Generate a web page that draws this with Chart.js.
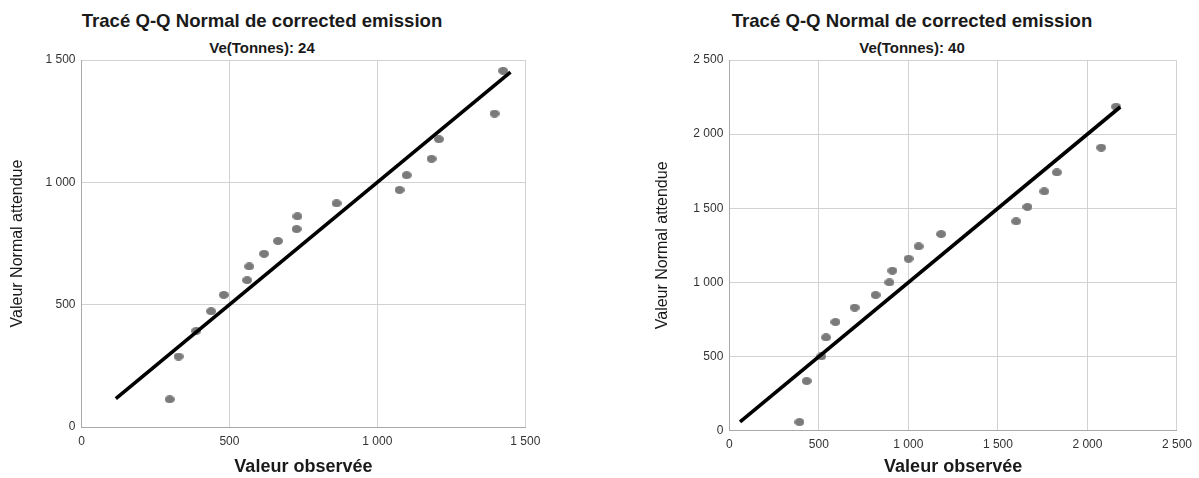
<!DOCTYPE html>
<html>
<head>
<meta charset="utf-8">
<script src="https://cdn.jsdelivr.net/npm/chart.js@4"></script>
<style>
  body { margin: 0; background: #fff; font-family: "Liberation Sans", Arial, sans-serif; }
  #wrap { position: relative; width: 1199px; height: 478px; overflow: hidden; }
  canvas { position: absolute; top: 0; }
  .title, .subtitle { position: absolute; width: 400px; text-align: center; color: #1a1a1a; font-weight: bold; white-space: nowrap; }
  .title { font-size: 18.6px; line-height: 22px; top: 10px; }
  .subtitle { font-size: 15px; line-height: 18px; top: 39px; }
</style>
</head>
<body>
<div id="wrap">
  <div class="title" style="left:62px">Tracé Q-Q Normal de corrected emission</div>
  <div class="subtitle" style="left:62px">Ve(Tonnes): 24</div>
  <div class="title" style="left:712px">Tracé Q-Q Normal de corrected emission</div>
  <div class="subtitle" style="left:712px">Ve(Tonnes): 40</div>
  <canvas id="qq24" width="580" height="478" style="left:0"></canvas>
  <canvas id="qq40" width="599" height="478" style="left:600px"></canvas>
</div>
<script>
// Ve = 24
const observed24 = [298, 328, 388, 438, 481, 560, 567, 617, 664, 727, 730, 862, 1075, 1099, 1183, 1208, 1396, 1425];
const expected24 = [113, 288, 393, 473, 540, 600, 656, 708, 760, 809, 861, 914, 969, 1029, 1096, 1176, 1281, 1456];
const refLine24 = [116, 1450];
const ticks24 = [0, 500, 1000, 1500];

// Ve = 40
const observed40 = [392, 432, 514, 540, 593, 700, 817, 894, 911, 1001, 1057, 1183, 1602, 1665, 1759, 1829, 2077, 2160];
const expected40 = [58, 335, 501, 629, 733, 830, 915, 1000, 1079, 1160, 1243, 1326, 1412, 1509, 1614, 1742, 1909, 2185];
const refLine40 = [60, 2183];
const ticks40 = [0, 500, 1000, 1500, 2000, 2500];

const FONT = "'Liberation Sans', Arial, sans-serif";

function fmt(v) {
  return String(v).replace(/\B(?=(\d{3})+(?!\d))/g, ' ');
}

// small elliptic marker, like the SPSS dots
function ellipseMarker(w, h, color) {
  const c = document.createElement('canvas');
  c.width = w; c.height = h;
  const g = c.getContext('2d');
  g.fillStyle = color;
  g.beginPath();
  g.ellipse(w / 2, h / 2, w / 2, h / 2, 0, 0, Math.PI * 2);
  g.fill();
  return c;
}

function qqChart(id, observed, expected, refLine, ticks, box) {
  const points = observed.map((x, i) => ({ x, y: expected[i] }));
  const line = refLine.map(v => ({ x: v, y: v }));
  const max = ticks[ticks.length - 1];

  const axis = (title) => ({
    type: 'linear',
    min: 0,
    max,
    afterBuildTicks: s => { s.ticks = ticks.map(value => ({ value })); },
    grid: { color: '#d2d2d2', lineWidth: 1, drawTicks: false },
    border: { color: '#a9a9a9', width: 1 },
    ticks: { color: '#333', font: { family: FONT, size: 12 }, padding: 6, callback: v => fmt(v) },
    title
  });

  const x = axis({ display: true, text: 'Valeur observée', color: '#1a1a1a', font: { family: FONT, size: 18, weight: 'bold' }, padding: { top: 0, bottom: 0 } });
  x.afterFit = s => { s.height = box.xHeight; };
  x.ticks.padding = 7;

  const y = axis({ display: true, text: 'Valeur Normal attendue', color: '#1a1a1a', font: { family: FONT, size: 16 }, padding: { top: 8.4, bottom: 0 } });
  y.afterFit = s => { s.width = box.yWidth; };

  return new Chart(document.getElementById(id), {
    type: 'scatter',
    data: {
      datasets: [
        {
          type: 'line',
          data: line,
          borderColor: '#000',
          borderWidth: 3.6,
          pointRadius: 0,
          fill: false
        },
        {
          data: points,
          pointStyle: ellipseMarker(10, 8, '#7a7a7a'),
          pointRadius: 4
        }
      ]
    },
    options: {
      responsive: false,
      animation: false,
      layout: { padding: box.padding },
      plugins: { legend: { display: false }, tooltip: { enabled: false } },
      scales: { x, y }
    }
  });
}

qqChart('qq24', observed24, expected24, refLine24, ticks24, {
  padding: { left: 0, top: 60, right: 54.7, bottom: 0 },
  yWidth: 81.5,
  xHeight: 51
});

qqChart('qq40', observed40, expected40, refLine40, ticks40, {
  padding: { left: 45, top: 60, right: 18.7, bottom: 0 },
  yWidth: 84.3,
  xHeight: 47.3
});
</script>
</body>
</html>
